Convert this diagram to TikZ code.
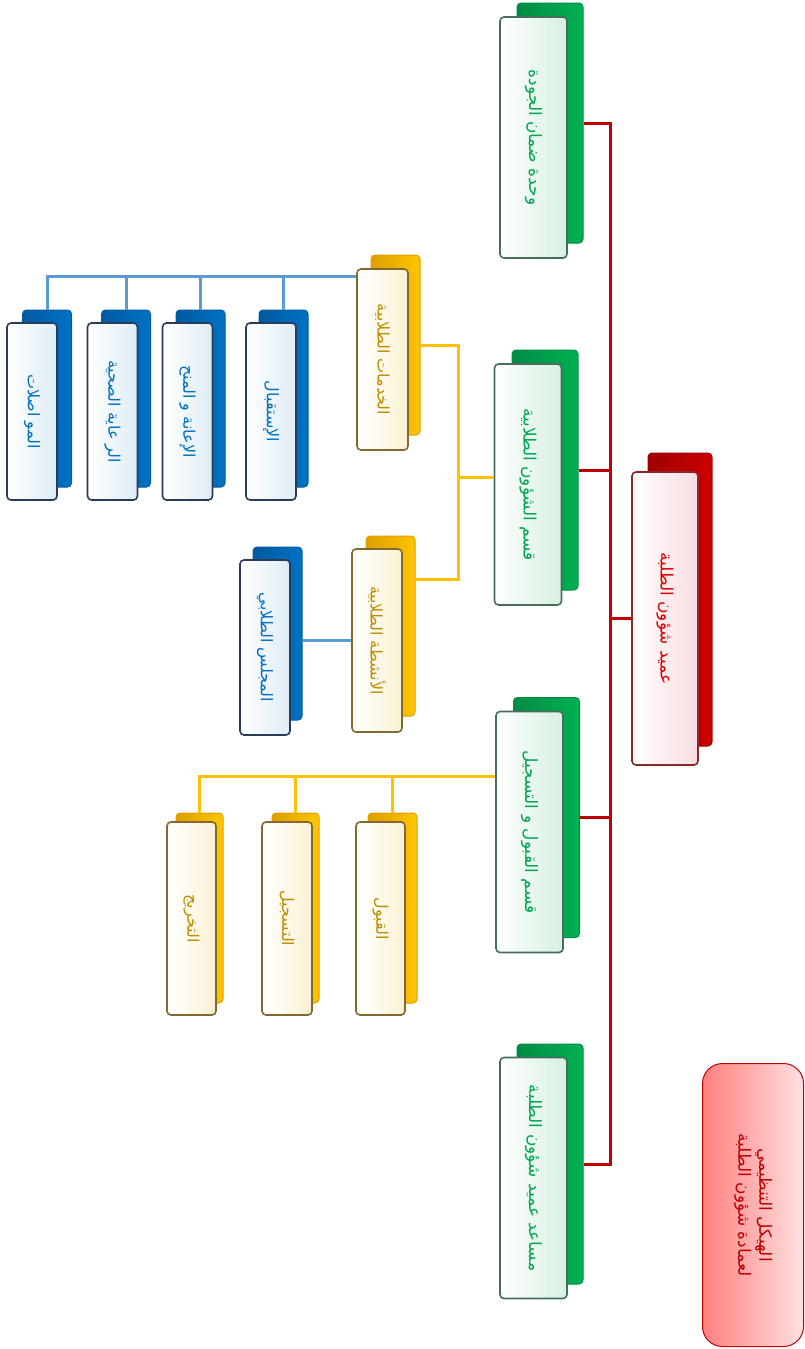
\documentclass[tikz,border=0pt]{standalone}
\usepackage{fontspec}
\usepackage{graphicx}
\usetikzlibrary{calc}
\TeXXeTstate=1
\newfontfamily\arabicfont[Script=Arabic]{DejaVu Sans}
\newcommand\artxt[1]{\rotatebox{-90}{\arabicfont\beginR #1\endR}}
\definecolor{gdark}{RGB}{0,140,70}
\definecolor{gmid}{RGB}{0,176,80}
\definecolor{gtext}{RGB}{0,166,80}
\definecolor{gtint}{RGB}{214,240,224}
\definecolor{gborder}{RGB}{70,110,90}
\definecolor{rdark}{RGB}{160,0,0}
\definecolor{rmid}{RGB}{204,0,0}
\definecolor{rtext}{RGB}{225,0,0}
\definecolor{rtint}{RGB}{248,220,224}
\definecolor{rborder}{RGB}{140,40,40}
\definecolor{ydark}{RGB}{220,160,0}
\definecolor{ymid}{RGB}{255,196,0}
\definecolor{ytext}{RGB}{190,140,0}
\definecolor{ytint}{RGB}{250,242,212}
\definecolor{yborder}{RGB}{130,105,50}
\definecolor{bdark}{RGB}{0,90,160}
\definecolor{bmid}{RGB}{0,114,196}
\definecolor{btext}{RGB}{0,112,192}
\definecolor{btint}{RGB}{222,236,246}
\definecolor{bborder}{RGB}{40,60,90}
\definecolor{redline}{RGB}{192,0,0}
\definecolor{yelline}{RGB}{255,192,0}
\definecolor{bluline}{RGB}{91,155,213}
\definecolor{titleL}{RGB}{255,128,128}
\definecolor{titleR}{RGB}{255,224,224}
\begin{document}
\begin{tikzpicture}[x=1pt,y=-1pt,
  base/.style={rounded corners=4pt, inner sep=0pt, line width=1pt},
  gback/.style={base, draw=gdark, left color=gdark, right color=gmid},
  gfront/.style={base, draw=gborder, line width=1.6pt, left color=white, right color=gtint, text=gtext, font=\fontsize{17}{20}\selectfont},
  rback/.style={base, draw=rdark, left color=rdark, right color=rmid},
  rfront/.style={base, draw=rborder, line width=1.6pt, left color=white, right color=rtint, text=rtext, font=\fontsize{17}{20}\selectfont},
  yback/.style={base, draw=ydark, left color=ydark, right color=ymid},
  yfront/.style={base, draw=yborder, line width=1.6pt, left color=white, right color=ytint, text=ytext, font=\fontsize{16}{19}\selectfont},
  bback/.style={base, draw=bdark, left color=bdark, right color=bmid},
  bfront/.style={base, draw=bborder, line width=1.6pt, left color=white, right color=btint, text=btext, font=\fontsize{16}{19}\selectfont},
  rl/.style={draw=redline, line width=3pt},
  yl/.style={draw=yelline, line width=3pt},
  bl/.style={draw=bluline, line width=3pt}]
\useasboundingbox (0,0) rectangle (805,1349);

% title
\node[draw=redline, line width=1pt, rounded corners=20pt, left color=titleL, right color=titleR,
  minimum width=101pt, minimum height=283pt, inner sep=0pt, text=redline,
  font=\fontsize{17}{21}\selectfont] (title) at (753,1205)
  {\rotatebox{-90}{\arabicfont\begin{tabular}{c}\beginR الهيكل التنظيمي\endR\\\beginR لعمادة شؤون الطلبة\endR\end{tabular}}};

% root
\node[rback, minimum width=64pt, minimum height=293pt] (rootb) at (680,599.5) {};
\node[rfront, minimum width=66pt, minimum height=293pt] (rootf) at (665,618.5) {\artxt{عميد شؤون الطلبة}};

% green level
\node[gback, minimum width=66pt, minimum height=240pt] (g1b) at (550,123) {};
\node[gfront, minimum width=67pt, minimum height=241pt] (g1f) at (533.5,137.5) {\artxt{وحدة ضمان الجودة}};
\node[gback, minimum width=66pt, minimum height=240pt] (g2b) at (545,470) {};
\node[gfront, minimum width=67pt, minimum height=241pt] (g2f) at (528,484.5) {\artxt{قسم الشؤون الطلابية}};
\node[gback, minimum width=66pt, minimum height=240pt] (g3b) at (546.5,817.5) {};
\node[gfront, minimum width=67pt, minimum height=241pt] (g3f) at (529.5,832) {\artxt{قسم القبول و التسجيل}};
\node[gback, minimum width=66pt, minimum height=240pt] (g4b) at (550,1164) {};
\node[gfront, minimum width=67pt, minimum height=241pt] (g4f) at (533.5,1178) {\artxt{مساعد عميد شؤون الطلبة}};

% yellow level
\node[yback, minimum width=49pt, minimum height=180pt] (y1b) at (395.5,345) {};
\node[yfront, minimum width=51pt, minimum height=181pt] (y1f) at (382.5,359.5) {\artxt{الخدمات الطلابية}};
\node[yback, minimum width=49pt, minimum height=180pt] (y2b) at (390.5,626) {};
\node[yfront, minimum width=50pt, minimum height=183pt] (y2f) at (377,640.5) {\artxt{الأنشطة الطلابية}};

% blue services
\node[bback, minimum width=49pt, minimum height=177pt] (s1b) at (283.5,398.5) {};
\node[bfront, minimum width=50pt, minimum height=177pt] (s1f) at (271,411.5) {\artxt{الإستقبال}};
\node[bback, minimum width=49pt, minimum height=177pt] (s2b) at (200.5,398.5) {};
\node[bfront, minimum width=50pt, minimum height=177pt] (s2f) at (187.5,411.5) {\artxt{الإعانة و المنح}};
\node[bback, minimum width=49pt, minimum height=177pt] (s3b) at (126,398.5) {};
\node[bfront, minimum width=50pt, minimum height=177pt] (s3f) at (112.5,411.5) {\artxt{الر عاية الصحية}};
\node[bback, minimum width=49pt, minimum height=177pt] (s4b) at (47,398.5) {};
\node[bfront, minimum width=50pt, minimum height=177pt] (s4f) at (32,411.5) {\artxt{المو اصلات}};

% council
\node[bback, minimum width=49pt, minimum height=173pt] (mb) at (277.5,633.5) {};
\node[bfront, minimum width=50pt, minimum height=175pt] (mf) at (265,647.5) {\artxt{المجلس الطلابي}};

% admission children
\node[yback, minimum width=49pt, minimum height=190pt] (t1b) at (392.5,908) {};
\node[yfront, minimum width=49pt, minimum height=193pt] (t1f) at (380.5,918.5) {\artxt{القبول}};
\node[yback, minimum width=47pt, minimum height=190pt] (t2b) at (295.5,908) {};
\node[yfront, minimum width=50pt, minimum height=193pt] (t2f) at (287,918.5) {\artxt{التسجيل}};
\node[yback, minimum width=47pt, minimum height=190pt] (t3b) at (199.5,908) {};
\node[yfront, minimum width=49pt, minimum height=193pt] (t3f) at (191.5,918.5) {\artxt{التخريج}};

% red connectors
\coordinate (tr) at (610,0);
\draw[rl] (g1b.east) -- (g1b.east -| tr) -- (g4b.east -| tr) -- (g4b.east);
\draw[rl] (g2b.east) -- (g2b.east -| tr);
\draw[rl] (g3b.east) -- (g3b.east -| tr);
\draw[rl] (rootf.west) -- (rootf.west -| tr);

% yellow connectors from student affairs
\coordinate (yv) at (458,0);
\coordinate (ya) at ($(y2b.north east)!0.245!(y2b.south east)$);
\coordinate (yg) at ($(g2f.north west)!0.47!(g2f.south west)$);
\draw[yl] (y1b.east) -- (y1b.east -| yv) -- (yv |- ya) -- (ya);
\draw[yl] (yg) -- (yg -| yv);

% blue connectors
\coordinate (bs) at ($(y1f.north west)!0.045!(y1f.south west)$);
\draw[bl] (bs) -- (bs -| s4b.north) -- (s4b.north);
\draw[bl] (bs -| s1b.north) -- (s1b.north);
\draw[bl] (bs -| s2b.north) -- (s2b.north);
\draw[bl] (bs -| s3b.north) -- (s3b.north);
\draw[bl] (y2f.west) -- (y2f.west -| mb.east);

% yellow connectors from admission
\coordinate (ys) at ($(g3f.north west)!0.273!(g3f.south west)$);
\draw[yl] (ys) -- (ys -| t3b.north) -- (t3b.north);
\draw[yl] (ys -| t1b.north) -- (t1b.north);
\draw[yl] (ys -| t2b.north) -- (t2b.north);
\end{tikzpicture}
\end{document}
